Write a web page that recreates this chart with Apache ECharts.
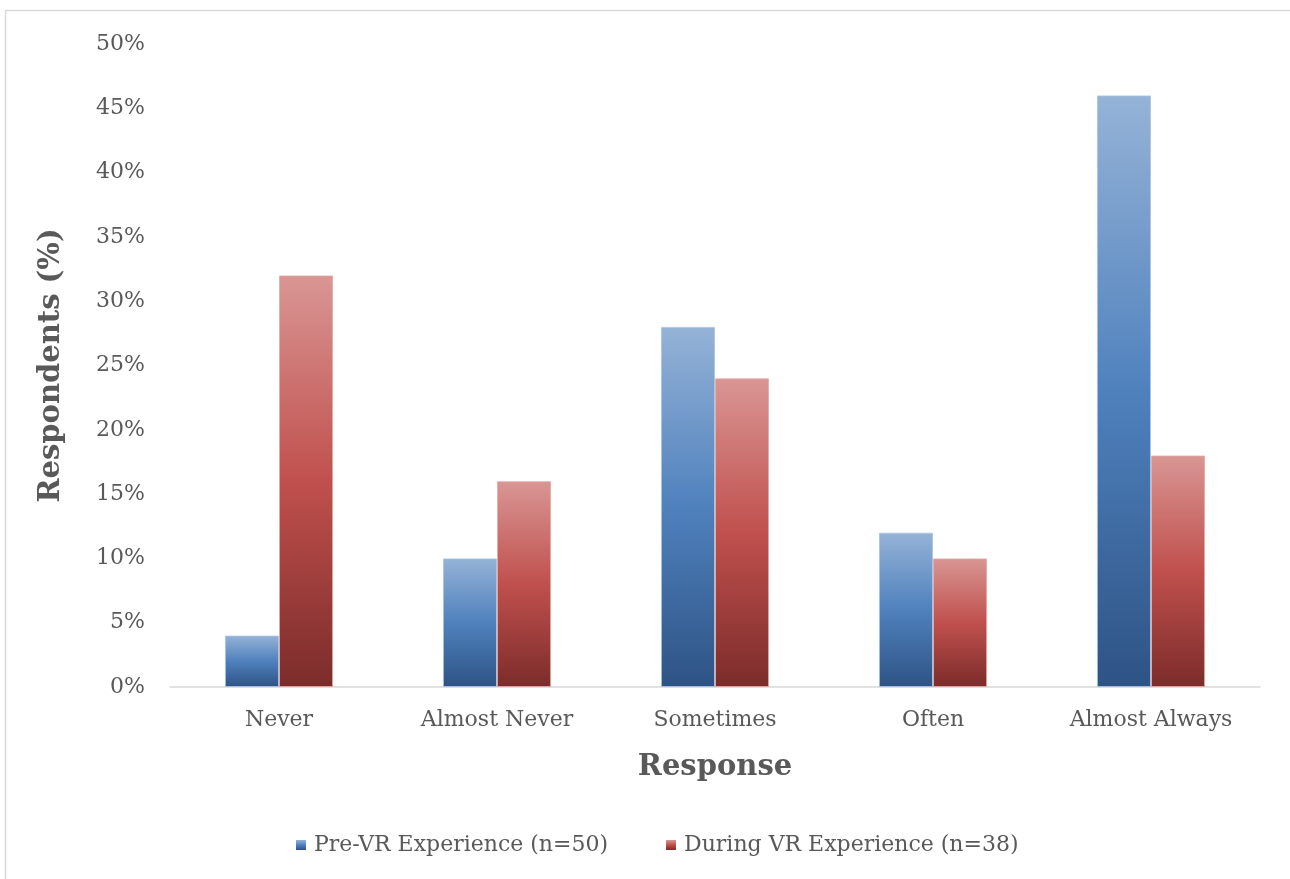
<!DOCTYPE html>
<html>
<head>
<meta charset="utf-8">
<script src="https://cdn.jsdelivr.net/npm/echarts@6/dist/echarts.min.js"></script>
<style>
html,body{margin:0;padding:0;background:#fff;}
#chart{width:1290px;height:879px;}
</style>
</head>
<body>
<div id="chart"></div>
<script>
var categories = ['Never', 'Almost Never', 'Sometimes', 'Often', 'Almost Always'];
var preVR = [4, 10, 28, 12, 46];
var duringVR = [32, 16, 24, 10, 18];
var seriesNames = ['Pre-VR Experience (n=50)', 'During VR Experience (n=38)'];
var yTicks = [0, 5, 10, 15, 20, 25, 30, 35, 40, 45, 50];

var FONT = '"DejaVu Serif", "Liberation Serif", serif';

function grad(top, mid, bot) {
  return new echarts.graphic.LinearGradient(0, 0, 0, 1, [
    {offset: 0, color: top},
    {offset: 0.5, color: mid},
    {offset: 1, color: bot}
  ]);
}
var blueGrad = grad('#95b3d7', '#4f81bd', '#2e5385');
var redGrad = grad('#d99694', '#c0504d', '#7b2c2a');

var chart = echarts.init(document.getElementById('chart'));
chart.setOption({
  backgroundColor: '#ffffff',
  animation: false,
  graphic: [{
    type: 'rect',
    shape: {x: 5.5, y: 10.5, width: 1400, height: 1000},
    style: {fill: 'none', stroke: '#d9d9d9', lineWidth: 1.5},
    silent: true,
    z: -1
  }],
  grid: {left: 170, right: 30, top: 44, bottom: 192, containLabel: false},
  legend: {
    bottom: 18,
    left: 291,
    itemWidth: 10,
    itemHeight: 10,
    itemGap: 58,
    icon: 'rect',
    itemStyle: {borderWidth: 0},
    textStyle: {fontFamily: FONT, fontSize: 22, color: '#595959', padding: [0, 0, 0, 3]},
    data: seriesNames
  },
  xAxis: {
    type: 'category',
    data: categories,
    name: 'Response',
    nameLocation: 'middle',
    nameGap: 66,
    nameTextStyle: {fontFamily: FONT, fontSize: 29, fontWeight: 'bold', color: '#595959'},
    axisLine: {lineStyle: {color: '#d9d9d9', width: 1.5}},
    axisTick: {show: false},
    axisLabel: {fontFamily: FONT, fontSize: 22, color: '#595959', margin: 22}
  },
  yAxis: {
    type: 'value',
    min: 0,
    max: 50,
    interval: 5,
    name: 'Respondents (%)',
    nameLocation: 'middle',
    nameGap: 104,
    nameTextStyle: {fontFamily: FONT, fontSize: 29, fontWeight: 'bold', color: '#595959'},
    axisLine: {show: false},
    axisTick: {show: false},
    splitLine: {show: false},
    axisLabel: {
      fontFamily: FONT, fontSize: 22, color: '#595959', margin: 25,
      formatter: function (v) { return yTicks.indexOf(v) >= 0 ? v + '%' : ''; }
    }
  },
  series: [
    {
      name: seriesNames[0],
      type: 'bar',
      data: preVR,
      barWidth: '24.8%',
      barGap: '0%',
      itemStyle: {color: blueGrad, borderColor: 'rgba(170,195,225,0.8)', borderWidth: 1}
    },
    {
      name: seriesNames[1],
      type: 'bar',
      data: duringVR,
      barWidth: '24.8%',
      barGap: '0%',
      itemStyle: {color: redGrad, borderColor: 'rgba(225,170,168,0.8)', borderWidth: 1}
    }
  ]
});
</script>
</body>
</html>
